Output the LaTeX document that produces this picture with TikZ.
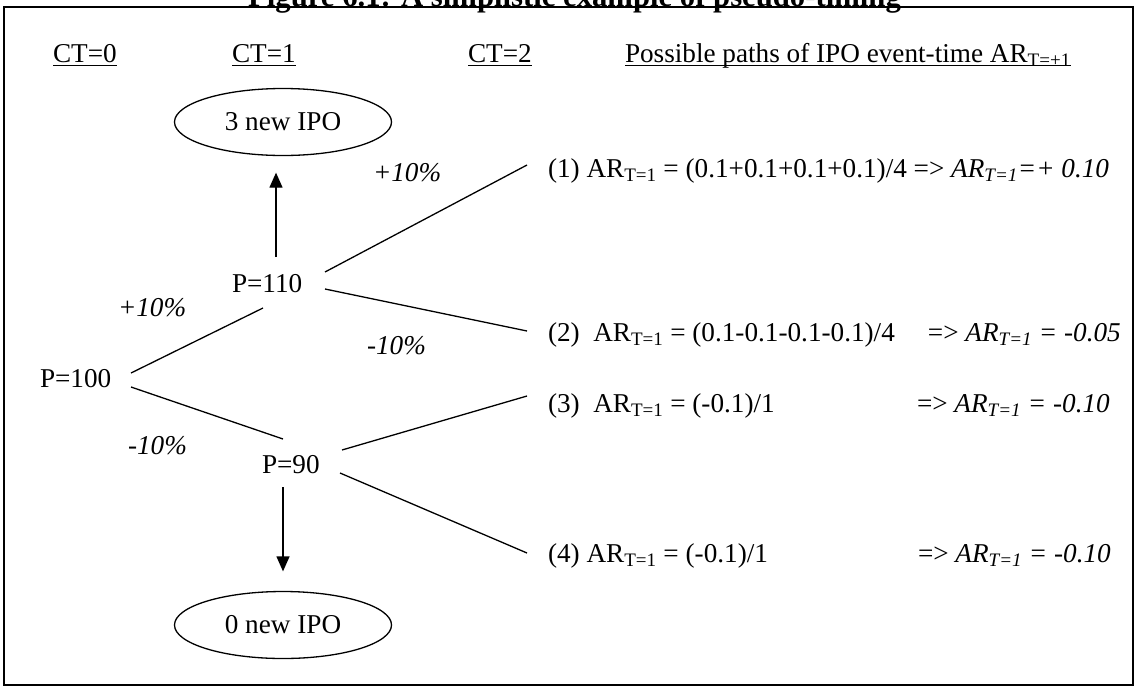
\documentclass[tikz,border=0pt]{standalone}
\usepackage{fontspec}
\setmainfont{Liberation Serif}
\usetikzlibrary{shapes.geometric,arrows.meta}
\newsavebox{\hdbox}
\newcommand{\hdul}[1]{\sbox\hdbox{#1}\rlap{\rule[-3.8pt]{\wd\hdbox}{1.2pt}}\usebox\hdbox}
\tikzset{
  txt/.style={anchor=base west, inner sep=0pt, outer sep=0pt, font=\fontsize{27.2}{32}\selectfont},
  pct/.style={txt, font=\fontsize{27.2}{32}\selectfont\itshape},
  ipo/.style={ellipse, draw, line width=1.3pt, minimum width=217pt, minimum height=67pt, inner sep=0pt, font=\fontsize{27.2}{32}\selectfont},
  conn/.style={line width=1.3pt},
  arr/.style={line width=1.3pt, -{Triangle[width=13pt,length=15pt]}},
  frame/.style={line width=1.6pt}
}
\begin{document}
\begin{tikzpicture}[x=1pt,y=-1pt]
\useasboundingbox (0,0) rectangle (1140,686);
\clip (0,0) rectangle (1140,686);
\fill[white] (0,0) rectangle (1140,686);
\draw[frame] (4,7) rectangle (1133,685);
\node[anchor=base west, inner sep=0pt, font=\fontsize{30.7}{36}\selectfont\bfseries] (title) at (248,6) {Figure 6.1: A simplistic example of pseudo-timing};
% headers
\node[txt] (ct0) at (53,62) {\hdul{CT=0}};
\node[txt] (ct1) at (232,62) {\hdul{CT=1}};
\node[txt] (ct2) at (468,62) {\hdul{CT=2}};
\node[txt] (paths) at (625,62) {\hdul{Possible paths of IPO event-time AR\textsubscript{T=+1}}};
% ellipses
\node[ipo] (e3) at (283,122) {3 new IPO};
\node[ipo] (e0) at (283,625) {0 new IPO};
% price nodes
\node[txt] (p100) at (40,387) {P=100};
\node[txt] (p110) at (232,292) {P=110};
\node[txt] (p90) at (262,473) {P=90};
% percentage labels
\node[pct] (pl1) at (118,316) {+10\%};
\node[pct] (ml1) at (128,454) {-10\%};
\node[pct] (pl2) at (373,181) {+10\%};
\node[pct] (ml2) at (367,354) {-10\%};
% result lines
\node[txt] (r1) at (548,177) {(1) AR\textsubscript{T=1} = (0.1+0.1+0.1+0.1)/4 => \textit{AR\textsubscript{T=1}=+ 0.10}};
\node[txt] (r2) at (548,341) {\makebox[380pt][l]{(2)\ \ AR\textsubscript{T=1} = (0.1-0.1-0.1-0.1)/4}=> \textit{AR\textsubscript{T=1} = -0.05}};
\node[txt] (r3) at (548,412) {\makebox[369pt][l]{(3)\ \ AR\textsubscript{T=1} = (-0.1)/1}=> \textit{AR\textsubscript{T=1} = -0.10}};
\node[txt] (r4) at (548,562) {\makebox[370pt][l]{(4) AR\textsubscript{T=1} = (-0.1)/1}=> \textit{AR\textsubscript{T=1} = -0.10}};
% connectors
\draw[conn] ([shift={(91,-14)}]p100.base west) -- ([shift={(31,16)}]p110.base west);
\draw[conn] ([shift={(91,0)}]p100.base west) -- ([shift={(21,-34)}]p90.base west);
\draw[conn] ([shift={(93,-20)}]p110.base west) -- ([shift={(-21,-12)}]r1.base west);
\draw[conn] ([shift={(93,-3)}]p110.base west) -- ([shift={(-21,-10)}]r2.base west);
\draw[conn] ([shift={(80,-23)}]p90.base west) -- ([shift={(-21,-16)}]r3.base west);
\draw[conn] ([shift={(78,0)}]p90.base west) -- ([shift={(-21,-9)}]r4.base west);
\draw[arr] ([shift={(44,-35)}]p110.base west) -- ([shift={(-7,16.5)}]e3.south);
\draw[arr] ([shift={(21,14)}]p90.base west) -- ([shift={(0,-19.5)}]e0.north);
\end{tikzpicture}
\end{document}
